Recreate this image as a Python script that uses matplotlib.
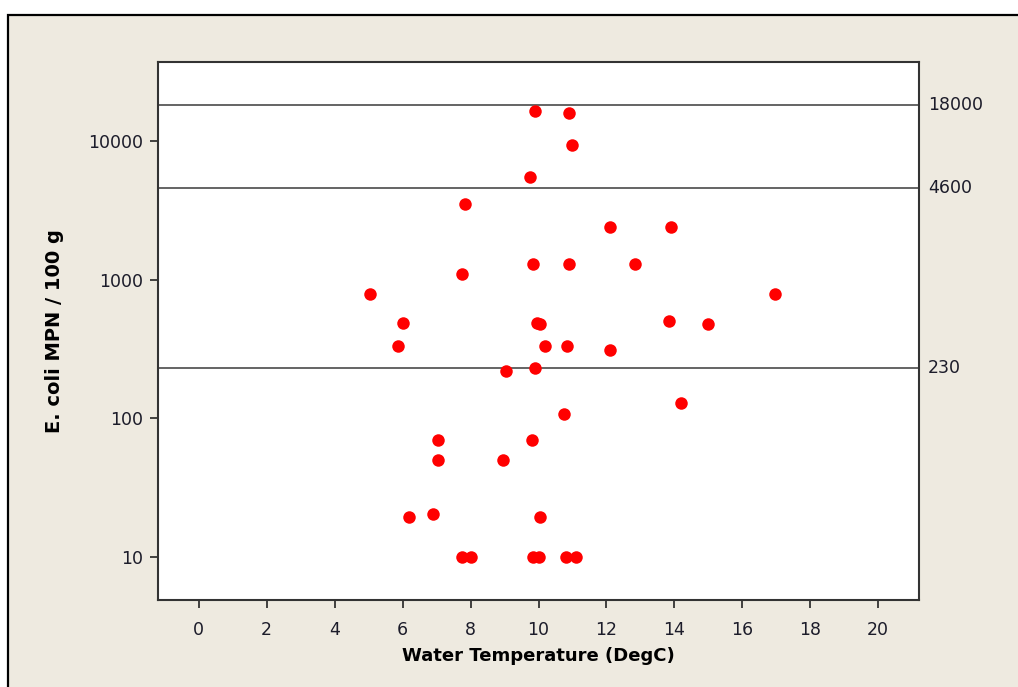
import matplotlib
matplotlib.use("Agg")
import matplotlib.pyplot as plt
import matplotlib.transforms as mtransforms
from matplotlib.patches import Rectangle

# ── Data ──────────────────────────────────────────────────────────────────────
water_temp = [9.9, 10.9, 11.0, 9.75, 7.85, 12.1, 13.9, 7.75, 9.85, 10.9, 12.85,
              5.05, 16.95, 6.0, 9.95, 10.05, 13.85, 15.0, 5.85, 10.2, 10.85, 12.1,
              9.05, 9.9, 10.75, 14.2, 7.05, 9.8, 7.05, 8.95, 6.2, 6.9, 10.05,
              7.75, 8.0, 9.85, 10.0, 10.8, 11.1]
ecoli_mpn  = [16400, 15900, 9300, 5500, 3500, 2400, 2400, 1100, 1300, 1300, 1300,
              790, 790, 490, 490, 480, 500, 480, 330, 330, 330, 310,
              220, 230, 108, 128, 70, 70, 50, 50, 19.5, 20.5, 19.5,
              10, 10, 10, 10, 10, 10]

ref_levels = [18000, 4600, 230]
x_ticks = [0, 2, 4, 6, 8, 10, 12, 14, 16, 18, 20]
y_ticks = [10, 100, 1000, 10000]

BG = "#EEEAE0"
TXT = "#1c1c2a"

W, H = 1018, 687
fig = plt.figure(figsize=(W / 100, H / 100), dpi=100, facecolor="white")

# beige panel with a border on top and left only (it runs off the image)
fig.patches.append(Rectangle((8 / W, -0.1), 1.2, 1 - 15 / H + 0.1,
                             transform=fig.transFigure, facecolor=BG,
                             edgecolor="black", linewidth=1.6, zorder=-10))

ax = fig.add_axes([158 / W, (H - 600) / H, (919 - 158) / W, (600 - 62) / H])
ax.set_facecolor("white")
ax.set_yscale("log")
ax.set_xlim(-1.2, 21.2)
ax.set_ylim(4.9, 37000)

for lvl in ref_levels:
    ax.axhline(lvl, color="#3a3a3a", linewidth=1.1, zorder=1)

ax.plot(water_temp, ecoli_mpn, "o", color="#FF0000", markersize=9,
        markeredgewidth=0, zorder=3)

trans = mtransforms.blended_transform_factory(ax.transAxes, ax.transData)
for lvl in ref_levels:
    ax.text(1.012, lvl, str(lvl), transform=trans, va="center", ha="left",
            fontsize=12.5, color=TXT)

ax.set_xticks(x_ticks)
ax.set_yticks(y_ticks)
ax.set_yticklabels([str(v) for v in y_ticks])
ax.yaxis.set_minor_locator(matplotlib.ticker.NullLocator())
ax.tick_params(axis="both", direction="out", length=6, width=1.3,
               color="#333333", labelsize=12.5, labelcolor=TXT, pad=5)
ax.tick_params(axis="x", pad=9)
for s in ax.spines.values():
    s.set_color("#333333")
    s.set_linewidth(1.5)

ax.set_xlabel("Water Temperature (DegC)", fontsize=13, fontweight="bold",
              color="black", labelpad=6)
ax.set_ylabel("E. coli MPN / 100 g", fontsize=14, fontweight="bold",
              color="black", labelpad=17)

fig.savefig("out.png", dpi=100, facecolor=fig.get_facecolor())
